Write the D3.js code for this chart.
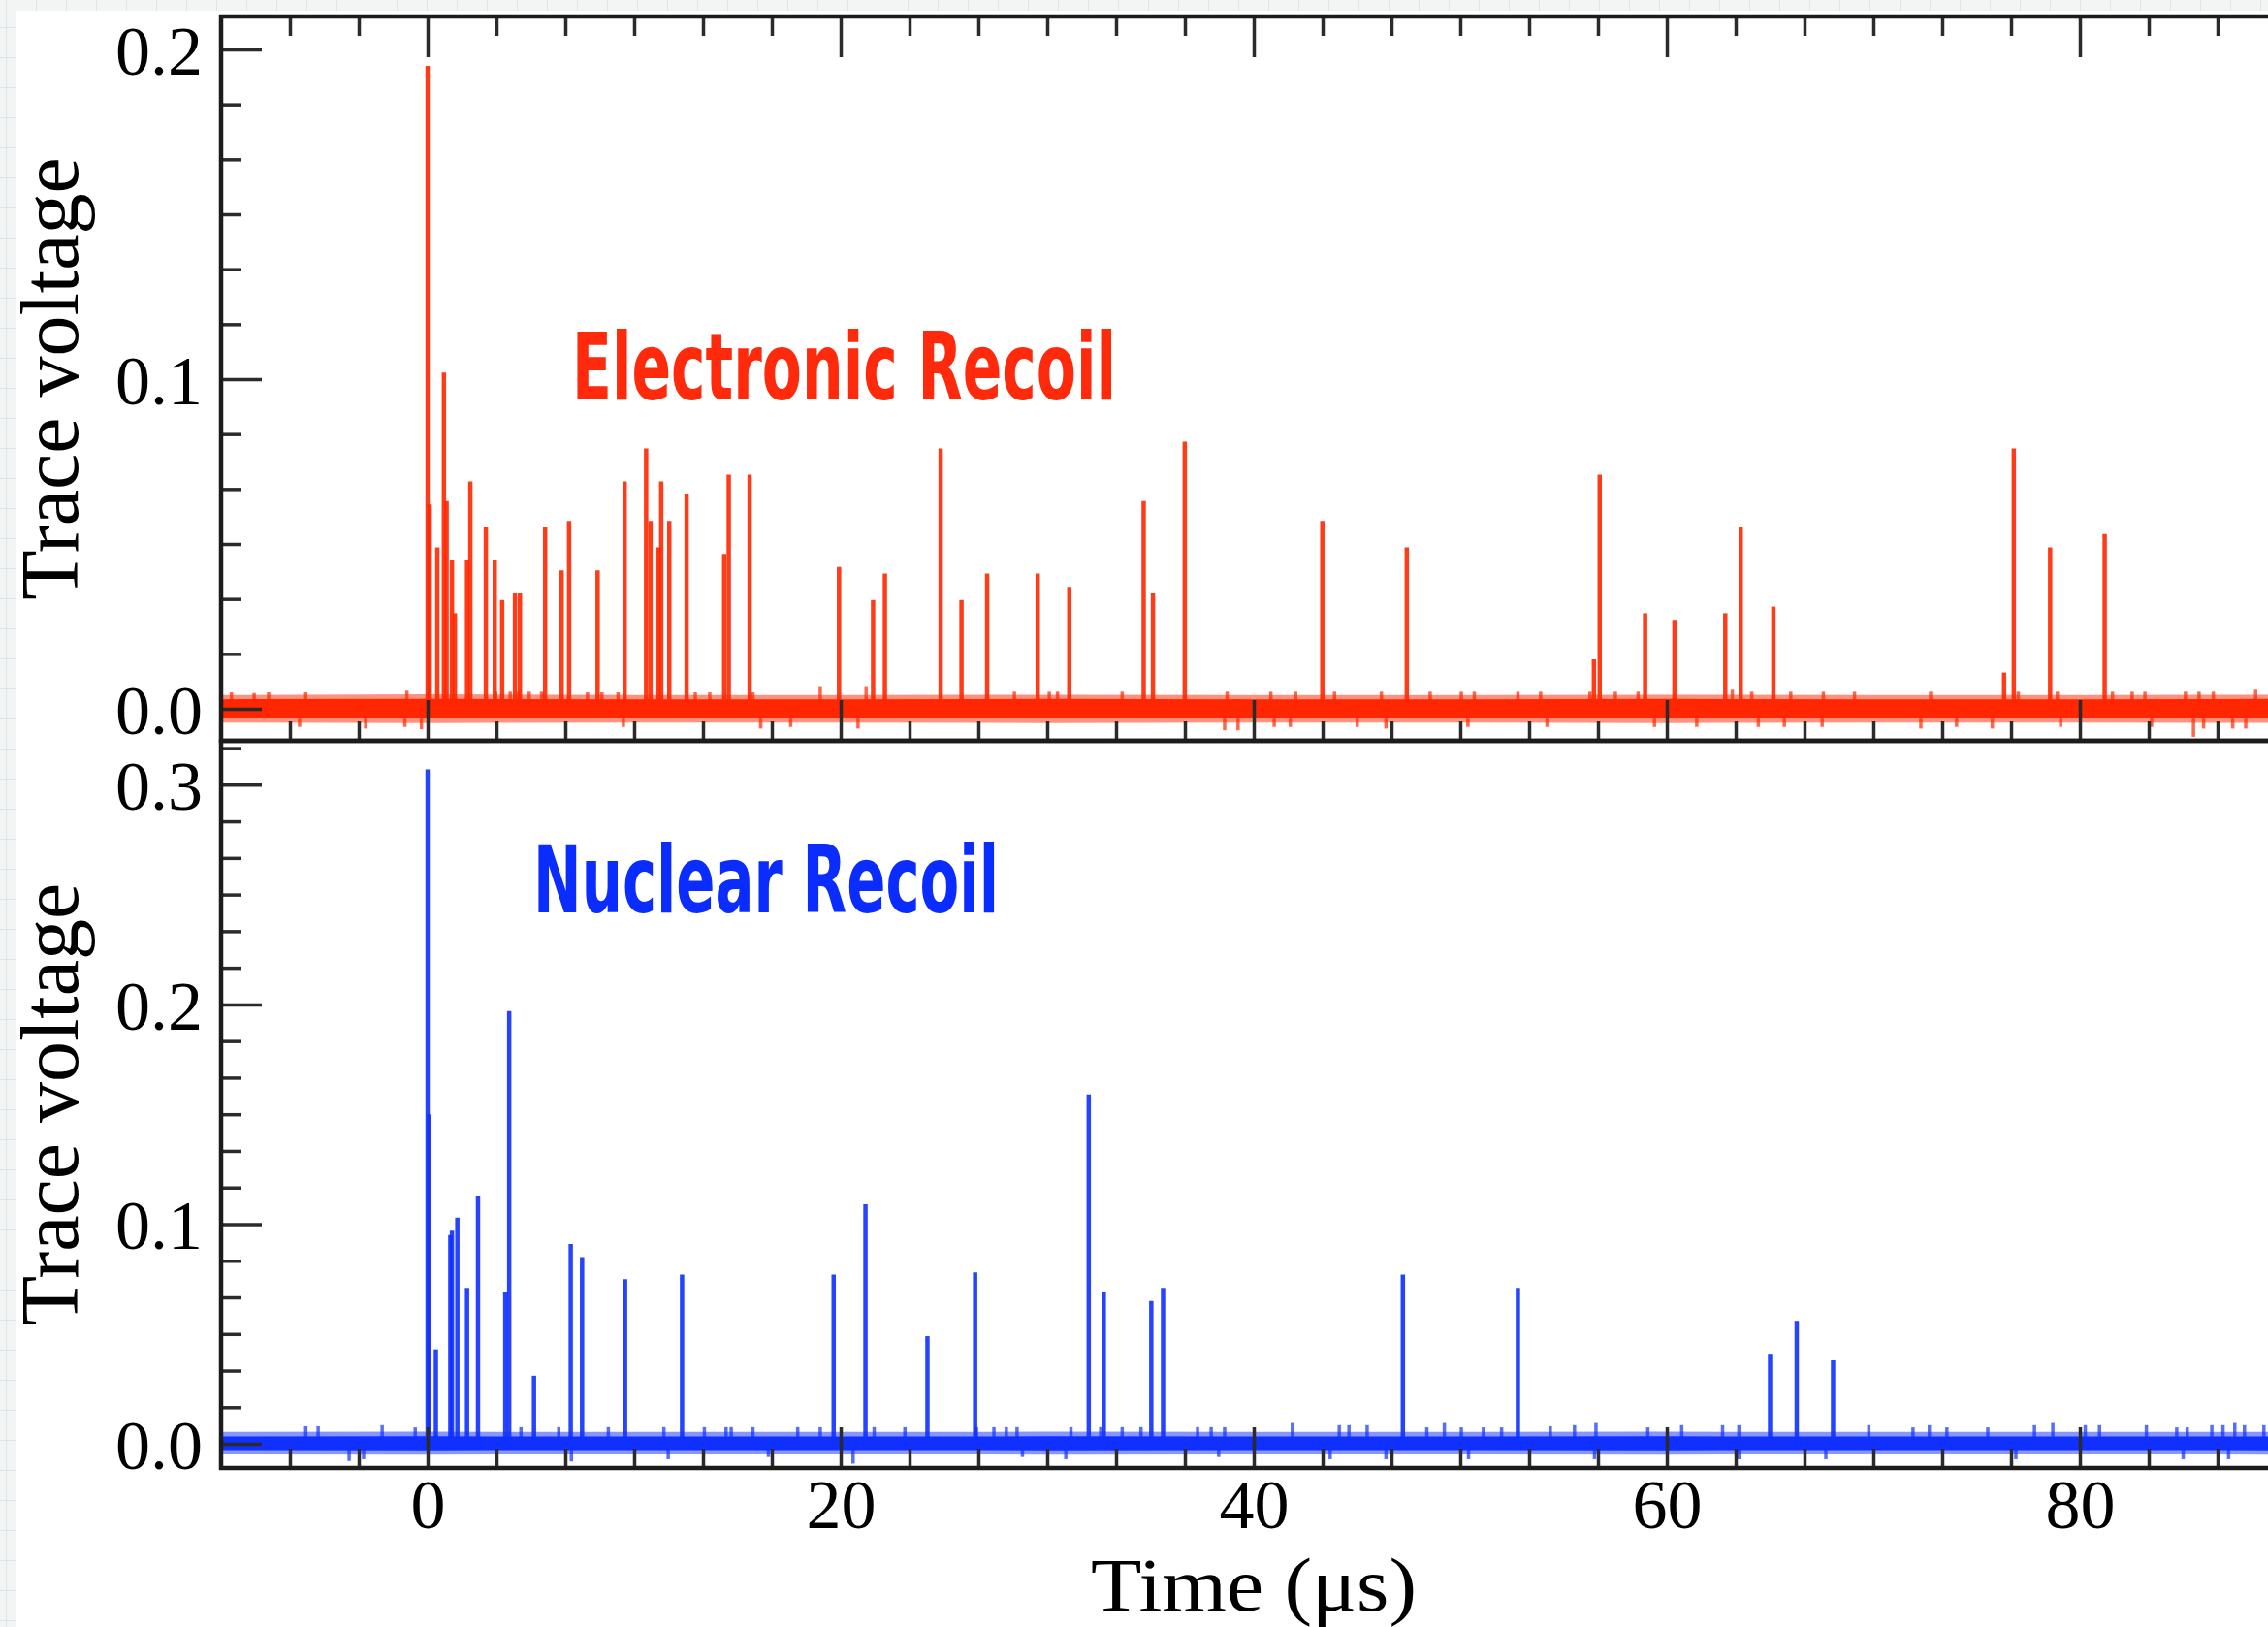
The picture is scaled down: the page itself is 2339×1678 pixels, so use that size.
<!DOCTYPE html>
<html>
<head>
<meta charset="utf-8">
<script src="https://cdn.jsdelivr.net/npm/d3@7"></script>
<style>
html, body { margin: 0; padding: 0; overflow: hidden; }
body {
  width: 2339px; height: 1678px;
  background-color: #f3f4f4;
  background-image: linear-gradient(#dbe7ee 1px, transparent 1px), linear-gradient(90deg, #dbe7ee 1px, transparent 1px);
  background-size: 31px 31px;
  background-position: 6px 28px;
}
svg { display: block; }
</style>
</head>
<body>
<svg id="chart" width="2339" height="1678"></svg>
<script>
// ---------------- DATA ----------------
const xTickLabels = [0, 20, 40, 60, 80];
const erYTicks = [0.0, 0.1, 0.2];
const nrYTicks = [0.0, 0.1, 0.2, 0.3];

// Electronic recoil: [time (µs), trace voltage] of the photon spikes
const erSpikes = [
  [0.00, 0.195], [0.10, 0.062], [0.47, 0.049], [0.79, 0.102], [0.92, 0.063], [1.18, 0.045],
  [1.32, 0.029], [1.91, 0.045], [2.07, 0.069], [2.82, 0.055], [3.25, 0.045], [3.61, 0.033],
  [4.23, 0.035], [4.47, 0.035], [5.69, 0.055], [6.49, 0.042], [6.85, 0.057], [8.23, 0.042],
  [9.54, 0.069], [10.58, 0.079], [10.79, 0.057], [11.18, 0.049], [11.31, 0.069], [11.70, 0.057],
  [12.54, 0.065], [14.36, 0.047], [14.58, 0.071], [15.59, 0.071], [19.92, 0.043], [21.57, 0.033],
  [22.14, 0.041], [24.84, 0.079], [25.85, 0.033], [27.09, 0.041], [29.54, 0.041], [31.07, 0.037],
  [34.67, 0.063], [35.12, 0.035], [36.66, 0.081], [43.32, 0.057], [47.41, 0.049], [56.47, 0.015],
  [56.75, 0.071], [58.95, 0.029], [60.37, 0.027], [62.83, 0.029], [63.58, 0.055], [65.16, 0.031],
  [76.33, 0.011], [76.80, 0.079], [78.56, 0.049], [81.20, 0.053]
];
// Electronic recoil: small noise excursions off the baseline
const erNoise = [
  [-9.5, 0.005], [-8.4, 0.0048], [-7.7, 0.005], [-6.2, -0.0055], [-5.9, 0.005], [-3.0, -0.006],
  [-1.1, -0.0055], [-1.0, 0.0055], [-0.3, -0.0062], [3.30, 0.0052], [4.0, 0.0052], [4.39, 0.0052],
  [4.92, 0.0052], [5.52, 0.0052], [7.74, 0.005], [8.44, 0.005], [9.22, 0.005], [9.48, -0.0055],
  [12.96, 0.005], [13.66, 0.005], [15.75, 0.005], [16.13, -0.006], [17.58, -0.0055], [19.01, 0.0066],
  [20.84, -0.006], [21.23, 0.0066], [28.41, 0.0052], [30.1, 0.0052], [30.5, 0.0052], [33.63, 0.0052],
  [38.59, -0.0065], [38.71, 0.0052], [39.24, -0.0065], [40.83, 0.0052], [40.99, -0.0055], [41.77, -0.0055],
  [42.03, 0.0052], [43.91, 0.0052], [45.01, -0.0055], [46.18, 0.0052], [46.40, -0.006], [48.54, 0.0052],
  [50.05, 0.0052], [50.37, -0.0055], [50.68, 0.0052], [52.79, 0.0052], [53.89, 0.0052], [54.2, -0.0055],
  [56.28, 0.0052], [57.51, 0.0052], [58.61, 0.0052], [59.4, -0.0055], [61.45, -0.0055], [63.17, 0.0058],
  [64.11, 0.0052], [64.43, -0.0055], [65.69, -0.0055], [66.0, 0.0052], [67.52, -0.0055], [67.58, 0.0052],
  [69.09, 0.0052], [72.3, -0.006], [72.77, 0.0052], [74.03, -0.0055], [75.76, -0.006], [77.02, 0.0052],
  [78.91, 0.0052], [79.07, -0.0055], [81.58, 0.0052], [82.53, 0.0052], [83.15, 0.0052], [83.47, -0.0055],
  [85.11, 0.0052], [85.5, -0.0085], [85.77, 0.0052], [85.99, -0.006], [86.46, 0.0052], [87.4, -0.006],
  [88.03, -0.006], [88.51, 0.0058]
];

// Nuclear recoil: [time (µs), trace voltage] of the photon spikes
const nrSpikes = [
  [0.00, 0.307], [0.08, 0.150], [0.40, 0.043], [1.10, 0.095], [1.18, 0.097], [1.44, 0.103],
  [1.91, 0.071], [2.44, 0.113], [3.76, 0.069], [3.95, 0.197], [5.15, 0.031], [6.93, 0.091],
  [7.48, 0.085], [9.56, 0.075], [12.32, 0.077], [19.66, 0.077], [21.20, 0.109], [24.20, 0.049],
  [26.51, 0.078], [32.01, 0.159], [32.74, 0.069], [35.04, 0.065], [35.61, 0.071], [47.22, 0.077],
  [52.79, 0.071], [65.00, 0.041], [66.29, 0.056], [68.05, 0.038]
];
// Nuclear recoil: small noise excursions off the baseline
const nrNoise = [
  [-5.9, 0.008], [-5.3, 0.008], [-3.8, -0.0078], [-3.1, -0.007], [-2.2, 0.0085], [-0.6, 0.0075],
  [4.52, 0.0076], [6.35, 0.0076], [6.96, -0.008], [8.75, 0.0076], [11.44, 0.0076], [11.65, -0.007],
  [13.40, 0.0076], [14.45, 0.0076], [14.70, 0.0076], [15.75, 0.0076], [16.5, -0.006], [17.92, 0.0076],
  [19.01, 0.0076], [20.6, -0.009], [21.62, 0.0076], [23.11, 0.0076], [26.58, 0.0076], [27.42, 0.0076],
  [28.02, 0.0076], [28.54, 0.0076], [28.8, -0.006], [30.9, -0.007], [31.15, 0.0076], [32.59, 0.0076],
  [33.63, 0.0076], [34.54, 0.0076], [37.28, 0.0076], [37.94, 0.0076], [38.3, -0.006], [38.59, 0.0076],
  [41.87, 0.0095], [43.7, -0.007], [44.14, 0.0085], [44.61, 0.0085], [45.49, 0.0085], [46.4, -0.007],
  [48.38, 0.0075], [49.23, 0.0095], [50.05, 0.0075], [50.4, -0.007], [51.12, 0.0075], [52.0, 0.0075],
  [54.36, 0.008], [55.53, 0.0085], [56.5, -0.007], [56.57, 0.0095], [59.08, 0.0075], [60.72, 0.0085],
  [62.7, 0.0085], [63.49, 0.0085], [63.5, -0.007], [67.7, -0.007], [69.78, 0.0085], [71.92, 0.0075],
  [72.71, 0.0085], [73.56, 0.0075], [75.54, 0.0075], [76.9, -0.007], [77.8, 0.0085], [78.69, 0.0095],
  [80.26, 0.0085], [80.95, 0.0085], [83.22, 0.0085], [84.69, 0.0075], [85.0, -0.007], [85.2, 0.0075],
  [86.39, 0.0085], [86.93, 0.0085], [87.2, -0.007], [87.5, 0.0095], [87.97, 0.0085], [88.91, 0.0085]
];

// baseline noise band envelopes (sampled every 10 µs)
const bandTime    = [-10, 0, 10, 20, 30, 40, 50, 60, 70, 80, 90, 100];
const erBandHigh  = [0.0029, 0.0030, 0.0029, 0.0029, 0.0030, 0.0029, 0.0029, 0.0030, 0.0029, 0.0029, 0.0030, 0.0029];
const erBandLow   = [-0.0028, -0.0029, -0.0028, -0.0028, -0.0029, -0.0028, -0.0028, -0.0029, -0.0028, -0.0028, -0.0029, -0.0028];
const erFringeHigh = [0.0042, 0.0044, 0.0042, 0.0042, 0.0043, 0.0042, 0.0042, 0.0043, 0.0042, 0.0042, 0.0043, 0.0042];
const erFringeLow  = [-0.0042, -0.0043, -0.0042, -0.0042, -0.0043, -0.0042, -0.0042, -0.0043, -0.0042, -0.0042, -0.0043, -0.0042];
const nrBandHigh  = [0.0033, 0.0034, 0.0033, 0.0033, 0.0034, 0.0033, 0.0033, 0.0034, 0.0033, 0.0033, 0.0034, 0.0033];
const nrBandLow   = [-0.0028, -0.0029, -0.0028, -0.0028, -0.0029, -0.0028, -0.0028, -0.0029, -0.0028, -0.0028, -0.0029, -0.0028];
const nrFringeHigh = [0.0054, 0.0055, 0.0054, 0.0054, 0.0055, 0.0054, 0.0054, 0.0055, 0.0054, 0.0054, 0.0055, 0.0054];
const nrFringeLow  = [-0.0048, -0.0049, -0.0048, -0.0048, -0.0049, -0.0048, -0.0048, -0.0049, -0.0048, -0.0048, -0.0049, -0.0048];

// ---------------- DRAWING ----------------
const W = 2339, H = 1678;
const svg = d3.select('#chart');
const serif = "'Liberation Serif', 'Times New Roman', Times, serif";
const axisColor = '#2b2b2b';

svg.append('rect').attr('x', 17).attr('y', 11).attr('width', W - 17).attr('height', H - 11).attr('fill', '#ffffff');

const left = 228;
const x = d3.scaleLinear().domain([-10, 100]).range([left, left + 110 * 21.3]);

const xMinor = d3.range(-6, 31).map(i => i * 20 / 6).filter((v, i) => ((i % 6) !== 0) && v > -10 && v <= 100);
const xMajor = xTickLabels;

const panels = [
  { spikes: erSpikes, noise: erNoise, bandHi: erBandHigh, bandLo: erBandLow, fHi: erFringeHigh, fLo: erFringeLow,
    yTicks: erYTicks, domain: [-0.0097, 0.21], top: 17, bottom: 764, color: '#ff2600',
    label: 'Electronic Recoil', labelColor: '#ff2a0c', labelX: 590, labelY: 412, labelLen: 561, topAxis: true, xLabels: false },
  { spikes: nrSpikes, noise: nrNoise, bandHi: nrBandHigh, bandLo: nrBandLow, fHi: nrFringeHigh, fLo: nrFringeLow,
    yTicks: nrYTicks, domain: [-0.011, 0.32], top: 764, bottom: 1514, color: '#0f30ff',
    label: 'Nuclear Recoil', labelColor: '#0b2cff', labelX: 550, labelY: 941, labelLen: 480, topAxis: false, xLabels: true }
];

function styleAxis(g) {
  g.select('.domain').remove();
  g.selectAll('.tick line').attr('stroke', axisColor).attr('stroke-width', 3.5);
  g.attr('font-family', serif).attr('font-size', 72);
  g.selectAll('.tick text').attr('fill', '#000');
}

panels.forEach((p, pi) => {
  const y = d3.scaleLinear().domain(p.domain).range([p.bottom, p.top]);
  const clipId = 'clip' + pi;
  svg.append('clipPath').attr('id', clipId)
    .append('rect').attr('x', left).attr('y', p.top).attr('width', W - left).attr('height', p.bottom - p.top);

  const g = svg.append('g').attr('clip-path', `url(#${clipId})`);

  const bandData = bandTime.map((t, i) => ({ t, hi: p.bandHi[i], lo: p.bandLo[i], fhi: p.fHi[i], flo: p.fLo[i] }));
  g.append('path').datum(bandData)
    .attr('d', d3.area().x(d => x(d.t)).y0(d => y(d.flo)).y1(d => y(d.fhi)))
    .attr('fill', p.color).attr('opacity', 0.5);
  g.append('path').datum(bandData)
    .attr('d', d3.area().x(d => x(d.t)).y0(d => y(d.lo)).y1(d => y(d.hi)))
    .attr('fill', p.color);

  g.selectAll('line.noise').data(p.noise).join('line').attr('class', 'noise')
    .attr('x1', d => x(d[0])).attr('x2', d => x(d[0]))
    .attr('y1', y(0)).attr('y2', d => y(d[1]))
    .attr('stroke', p.color).attr('stroke-width', 3.5).attr('opacity', 0.7);

  g.selectAll('line.spike').data(p.spikes).join('line').attr('class', 'spike')
    .attr('x1', d => x(d[0])).attr('x2', d => x(d[0]))
    .attr('y1', y(0)).attr('y2', d => y(d[1]))
    .attr('stroke', p.color).attr('stroke-width', 4.5).attr('opacity', 0.9);

  // y axis minor + major ticks
  const yStep = 0.1 / 6;
  const yMinor = d3.range(0, 40).map(i => i * yStep).filter((v, i) => (i % 6) !== 0 && v < p.domain[1]);
  const gyMinor = svg.append('g').attr('transform', `translate(${left},0)`)
    .call(d3.axisLeft(y).tickValues(yMinor).tickSize(-21).tickFormat(''));
  styleAxis(gyMinor);
  const gyMajor = svg.append('g').attr('transform', `translate(${left},0)`)
    .call(d3.axisLeft(y).tickValues(p.yTicks).tickSize(-42).tickPadding(19).tickFormat(d3.format('.1f')));
  styleAxis(gyMajor);
  gyMajor.selectAll('.tick text').attr('dy', '0.35em');

  // x axis ticks
  if (p.topAxis) {
    const gt1 = svg.append('g').attr('transform', `translate(0,${p.top})`)
      .call(d3.axisTop(x).tickValues(xMinor).tickSize(-20).tickFormat(''));
    styleAxis(gt1);
    const gt2 = svg.append('g').attr('transform', `translate(0,${p.top})`)
      .call(d3.axisTop(x).tickValues(xMajor).tickSize(-42).tickFormat(''));
    styleAxis(gt2);
  }
  const gb1 = svg.append('g').attr('transform', `translate(0,${p.bottom})`)
    .call(d3.axisBottom(x).tickValues(xMinor).tickSize(-20).tickFormat(''));
  styleAxis(gb1);
  const gb2 = svg.append('g').attr('transform', `translate(0,${p.bottom})`)
    .call(d3.axisBottom(x).tickValues(xMajor).tickSize(-42).tickPadding(11)
      .tickFormat(p.xLabels ? d3.format('d') : ''));
  styleAxis(gb2);

  // frame
  svg.append('line').attr('x1', left).attr('x2', left).attr('y1', p.top - 2).attr('y2', p.bottom + 2)
    .attr('stroke', '#1c1c1c').attr('stroke-width', 4.5);
  svg.append('line').attr('x1', left - 2).attr('x2', W).attr('y1', p.top).attr('y2', p.top)
    .attr('stroke', '#1c1c1c').attr('stroke-width', 4.5);
  svg.append('line').attr('x1', left - 2).attr('x2', W).attr('y1', p.bottom).attr('y2', p.bottom)
    .attr('stroke', '#1c1c1c').attr('stroke-width', 4.5);

  // y title
  svg.append('text')
    .attr('transform', `translate(80,${(p.top + p.bottom) / 2}) rotate(-90)`)
    .attr('text-anchor', 'middle')
    .attr('font-family', serif).attr('font-size', 84).attr('fill', '#000')
    .text('Trace voltage');

  // annotation
  svg.append('text')
    .attr('x', p.labelX).attr('y', p.labelY)
    .attr('font-family', "'DejaVu Sans Condensed', 'DejaVu Sans', sans-serif")
    .attr('font-weight', 'bold').attr('font-size', 96)
    .attr('textLength', p.labelLen).attr('lengthAdjust', 'spacingAndGlyphs')
    .attr('fill', p.labelColor)
    .text(p.label);
});

// x title
svg.append('text')
  .attr('x', x(40) - 168).attr('y', 1661)
  .attr('font-family', serif).attr('font-size', 78).attr('fill', '#000')
  .attr('textLength', 336).attr('lengthAdjust', 'spacingAndGlyphs')
  .text('Time (μs)');
</script>
</body>
</html>
